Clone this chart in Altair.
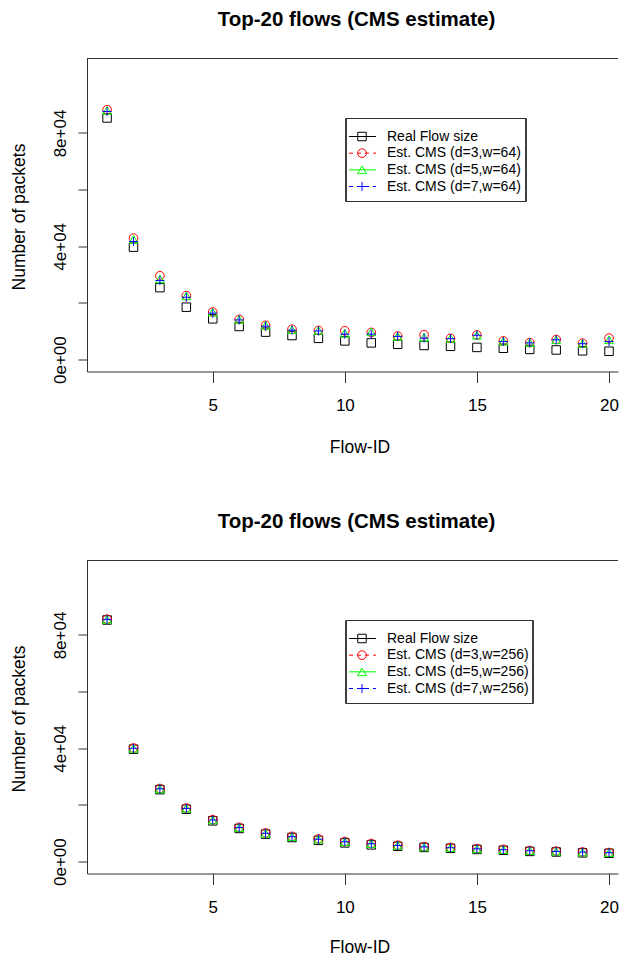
import altair as alt
import pandas as pd

flow_ids = list(range(1, 21))

real_flow = [85300, 39700, 25400, 18500, 14400, 11700, 9700, 8500, 7500, 6600,
             5900, 5400, 5000, 4700, 4300, 4000, 3600, 3400, 3100, 2950]

# w=64 estimates
est_d3_w64 = [88200, 42900, 29600, 22600, 16800, 14200, 12100, 10700, 10300, 10200,
              9600, 8300, 8800, 7500, 8700, 6600, 6000, 7100, 5800, 7600]
est_d5_w64 = [88000, 42500, 28500, 22500, 16700, 14200, 12100, 10600, 10300, 9300,
              9800, 8200, 7900, 7500, 8600, 6500, 6000, 7000, 5700, 7000]
est_d7_w64 = [87600, 41700, 27900, 22000, 16400, 14000, 11800, 10400, 10100, 9000,
              9000, 8200, 7600, 7400, 8600, 6400, 5900, 7000, 5600, 6400]

# w=256 estimates
est_d3_w256 = [85600, 40100, 25800, 18900, 14800, 12100, 10100, 8900, 8000, 7100,
               6400, 5800, 5300, 5000, 4600, 4300, 3900, 3700, 3400, 3200]
est_d5_w256 = [85500, 40000, 25700, 18800, 14700, 12000, 10000, 8800, 7900, 7000,
               6300, 5700, 5200, 4900, 4500, 4200, 3850, 3650, 3350, 3150]
est_d7_w256 = [85500, 40000, 25700, 18800, 14700, 12000, 10000, 8800, 7900, 7000,
               6300, 5700, 5200, 4900, 4500, 4200, 3850, 3600, 3350, 3150]

series_keys = ["real", "d3", "d5", "d7"]
labels_w64 = ["Real Flow size", "Est. CMS (d=3,w=64)", "Est. CMS (d=5,w=64)", "Est. CMS (d=7,w=64)"]
labels_w256 = ["Real Flow size", "Est. CMS (d=3,w=256)", "Est. CMS (d=5,w=256)", "Est. CMS (d=7,w=256)"]

title_text = "Top-20 flows (CMS estimate)"
x_title = "Flow-ID"
y_title = "Number of packets"

x_tick_values = [5, 10, 15, 20]
y_tick_values = [0, 20000, 40000, 60000, 80000]
y_label_values = [0, 40000, 80000]
y_label_texts = ["0e+00", "4e+04", "8e+04"]

series_colors = ["#000000", "#FF0000", "#00FF00", "#0000FF"]
plus_path = "M-1,0L1,0M0,-1L0,1"
series_shapes = ["square", "circle", "triangle-up", plus_path]
series_sizes = [72, 81, 95, 150]
series_dashes = [[1, 0], [4, 4], [1, 0], [4, 4]]

FONT = "Liberation Sans"
W = 531
H = 313

label_expr = " : ".join(
    f"datum.value == {v} ? '{t}'" for v, t in zip(y_label_values, y_label_texts)
) + " : ''"

color = alt.Color("key:N", scale=alt.Scale(domain=series_keys, range=series_colors), legend=None)
shape = alt.Shape("key:N", scale=alt.Scale(domain=series_keys, range=series_shapes), legend=None)
size = alt.Size("key:N", scale=alt.Scale(domain=series_keys, range=series_sizes), legend=None)
dash = alt.StrokeDash("key:N", scale=alt.Scale(domain=series_keys, range=series_dashes), legend=None)


def panel(series_values, labels, box_right, x_title_y):
    rows = []
    for key, vals in zip(series_keys, series_values):
        for f, v in zip(flow_ids, vals):
            rows.append({"flow": f, "value": v, "key": key})
    df = pd.DataFrame(rows)
    leg = pd.DataFrame({"key": series_keys, "label": labels, "row": list(range(len(labels)))})

    points = alt.Chart(df).mark_point(filled=False, strokeWidth=1, opacity=1).encode(
        x=alt.X("flow:Q", scale=alt.Scale(domain=[0.24, 20.34], nice=False, zero=False),
                axis=alt.Axis(values=x_tick_values, title=x_title, grid=False,
                              tickSize=11, labelPadding=27.5, labelBaseline="alphabetic",
                              labelAlign="center", labelFlush=False,
                              titleX=272.5, titleY=x_title_y, titleBaseline="alphabetic",
                              titleAlign="center")),
        y=alt.Y("value:Q", scale=alt.Scale(domain=[-4200, 106300], nice=False, zero=False),
                axis=alt.Axis(values=y_tick_values, title=y_title, grid=False,
                              tickSize=9, labelPadding=13, labelAngle=270,
                              labelAlign="center", labelBaseline="alphabetic",
                              labelExpr=label_expr, labelOverlap=False, labelFlush=False,
                              titleAngle=270, titleX=-63, titleY=158,
                              titleBaseline="alphabetic", titleAlign="center")),
        color=color, shape=shape, size=size,
    )

    top_border = alt.Chart(leg).mark_rule(color="#333333", strokeWidth=1).encode(
        x=alt.value(0), x2=alt.value(W), y=alt.value(0)
    )

    row_y = alt.Y("row:Q", scale=alt.Scale(domain=[0, 3], range=[78, 128]), axis=None)

    box = alt.Chart(leg).mark_rect(filled=False, stroke="#333333", strokeWidth=1).encode(
        x=alt.value(259), x2=alt.value(box_right), y=alt.value(60), y2=alt.value(143)
    )
    seg = alt.Chart(leg).mark_rule(strokeWidth=1).encode(
        x=alt.value(262), x2=alt.value(289), y=row_y, color=color, strokeDash=dash,
    )
    marks = alt.Chart(leg).mark_point(filled=False, strokeWidth=1, opacity=1).encode(
        x=alt.value(275), y=row_y, color=color, shape=shape, size=size
    )
    texts = alt.Chart(leg).mark_text(align="left", baseline="middle", fontSize=14, font=FONT,
                                     color="black").encode(
        x=alt.value(300), y=row_y, text="label:N"
    )

    return alt.layer(points, top_border, box, seg, marks, texts).resolve_scale(
        y="independent"
    ).properties(
        width=W, height=H,
        title=alt.TitleParams(title_text, fontSize=20.5, fontWeight="bold", font=FONT,
                              offset=11.5, baseline="alphabetic", anchor="middle", color="black",
                              dx=4),
    )


top = panel([real_flow, est_d3_w64, est_d5_w64, est_d7_w64], labels_w64, 439, 80.5)
bottom = panel([real_flow, est_d3_w256, est_d5_w256, est_d7_w256], labels_w256, 446, 78.5)

chart = alt.vconcat(top, bottom, spacing=56).properties(
    padding={"left": 2, "top": 1.5, "right": 0, "bottom": 0}
).configure_view(stroke=None).configure_axis(
    domainColor="#333333", tickColor="#333333", domainWidth=1, tickWidth=1,
    labelColor="black", titleColor="black", labelFont=FONT, titleFont=FONT,
    labelFontSize=17, titleFontSize=17.5, titleFontWeight="normal",
)

chart.save("out.html", embed_options={"renderer": "svg", "actions": False})
